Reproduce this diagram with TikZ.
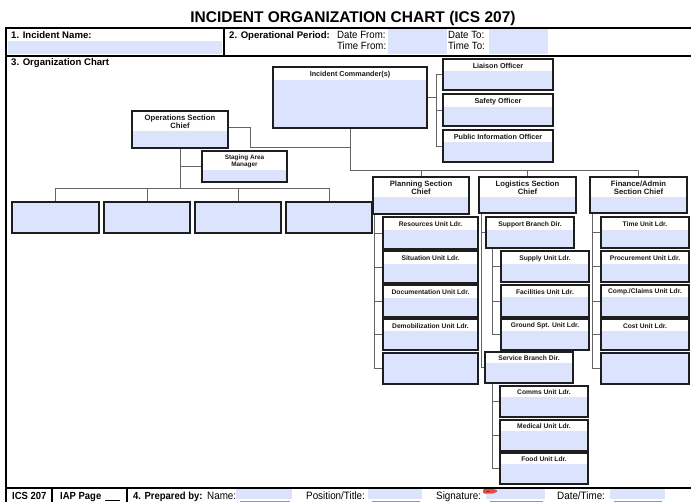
\documentclass[tikz,border=0pt]{standalone}
\usepackage{fontspec}
\setmainfont{Liberation Sans}
\newfontfamily\narrowfont{Liberation Sans}[FakeStretch=0.92]
\usetikzlibrary{backgrounds}

\definecolor{paleblue}{RGB}{220,227,253}
\definecolor{boxline}{RGB}{30,30,30}
\definecolor{connline}{RGB}{100,100,100}
\definecolor{tagred}{RGB}{225,80,70}
\definecolor{fieldline}{RGB}{150,150,150}

\tikzset{
  frameline/.style={draw=black, line width=2pt},
  thinframe/.style={draw=black, line width=1.4pt},
  chartnode/.style={draw=boxline, line width=1.25pt, fill=paleblue, anchor=north west,
                    inner sep=0pt, outer sep=0pt},
  conn/.style={draw=connline, line width=0.8pt},
  labeltext/.style={inner sep=0pt, text=black!90, align=center},
  offtxt/.style={labeltext, font=\bfseries\fontsize{7.2}{8}\selectfont},
  secttxt/.style={labeltext, font=\bfseries\fontsize{7.7}{8.2}\selectfont},
  unittxt/.style={labeltext, font=\bfseries\fontsize{6.7}{7.5}\selectfont},
  smalltxt/.style={labeltext, font=\bfseries\fontsize{6.4}{7.6}\selectfont},
  formbold/.style={inner sep=0pt, anchor=base west, font=\bfseries\fontsize{9.6}{11}\selectfont},
  formplain/.style={inner sep=0pt, anchor=base west, font=\narrowfont\fontsize{10.5}{11}\selectfont},
  footplain/.style={inner sep=0pt, anchor=base west, font=\narrowfont\fontsize{10.7}{12}\selectfont},
  footbold/.style={inner sep=0pt, anchor=base west, font=\narrowfont\bfseries\fontsize{10.3}{12}\selectfont},
  field/.style={fill=paleblue, draw=none},
}

% chart box: name, x, y, width, height, header height, text style, text
\newcommand\chartbox[8]{%
  \node[chartnode, minimum width=#4pt, minimum height=#5pt,
        path picture={\fill[white] (path picture bounding box.north west)
          rectangle ([yshift=-#6pt]path picture bounding box.north east);}]
        (#1) at (#2,#3) {};
  \node[#7] (#1-label) at ([yshift={-#6pt/2-0.8pt}]#1.north) {#8};
}

\begin{document}
\begin{tikzpicture}[x=1pt, y=-1pt]
\useasboundingbox (0,0) rectangle (691,502);

% ---------- title and form header ----------
\node[font=\bfseries\fontsize{15.5}{18}\selectfont, anchor=base, inner sep=0pt] (title)
  at (353,23) {INCIDENT ORGANIZATION CHART (ICS 207)};

\fill[field] (8,41) rectangle (222,54);
\fill[field] (388,29) rectangle (447,54);
\fill[field] (489,29) rectangle (548,54);

\draw[frameline] (6,502) -- (6,28) -- (691,28);
\draw[frameline] (6,56) -- (691,56);
\draw[frameline] (224,28) -- (224,56);

\node[formbold] (incname) at (11,39) {1. Incident Name:};
\node[formbold] (opperiod) at (229,39) {2. Operational Period:};
\node[formplain] (datefrom) at (337,39) {Date From:};
\node[formplain] (timefrom) at (337,50) {Time From:};
\node[formplain] (dateto) at (448,39) {Date To:};
\node[formplain] (timeto) at (448,50) {Time To:};
\node[formbold] (orgchart) at (11,66) {3. Organization Chart};

% ---------- footer ----------
\fill[field] (236,489) rectangle (292,499);
\fill[field] (368,489) rectangle (422,499);
\fill[field] (486,489) rectangle (545,499);
\fill[field] (610,489) rectangle (665,499);
\foreach \a/\b in {240/290, 372/420, 490/543, 614/662}
  \draw[fieldline, line width=1pt] (\a,501.5) -- (\b,501.5);
\draw[frameline] (6,488) -- (691,488);
\draw[thinframe] (52,488) -- (52,502);
\draw[thinframe] (127,488) -- (127,502);
\node[footbold] (icsno) at (12,499) {ICS 207};
\node[footbold] (iappage) at (60,499) {IAP Page};
\draw[black, line width=0.7pt] (105,500) -- (120,500);
\node[footbold] (prepared) at (133,499) {4. Prepared by:};
\node[footplain] (namelbl) at (207,499) {Name:};
\node[footplain] (poslbl) at (306,499) {Position/Title:};
\node[footplain] (siglbl) at (436,499) {Signature:};
\node[footplain] (dtlbl) at (557,499) {Date/Time:};
\fill[tagred, rounded corners=1pt] (483,489) -- (494,489) -- (498,491) -- (494,493.5) -- (483,493.5) -- cycle;
\draw[black!70, line width=0.5pt] (485.5,491.2) -- (490,491.2);

% ---------- command and general staff ----------
\chartbox{ic}{273}{67}{154}{61}{13}{offtxt}{Incident Commander(s)}
\chartbox{liaison}{443}{59}{110}{31}{12}{offtxt}{Liaison Officer}
\chartbox{safety}{443}{94}{110}{32}{13}{offtxt}{Safety Officer}
\chartbox{pio}{443}{130}{110}{32}{12}{offtxt}{Public Information Officer}

\chartbox{osc}{132}{111}{96}{37}{20}{secttxt}{Operations Section\\Chief}
\chartbox{staging}{202}{151}{85}{31}{19}{smalltxt}{Staging Area\\Manager}
\chartbox{psc}{373}{177}{96}{37}{20}{secttxt}{Planning Section\\Chief}
\chartbox{lsc}{479}{177}{97}{36}{20}{secttxt}{Logistics Section\\Chief}
\chartbox{fsc}{590}{177}{97}{36}{20}{secttxt}{Finance/Admin\\Section Chief}

% operations branches
\chartbox{ob1}{12}{202}{87}{31}{0}{unittxt}{}
\chartbox{ob2}{104}{202}{86}{31}{0}{unittxt}{}
\chartbox{ob3}{195}{202}{86}{31}{0}{unittxt}{}
\chartbox{ob4}{286}{202}{86}{31}{0}{unittxt}{}

% planning units
\chartbox{resources}{383}{217}{95}{32}{13}{unittxt}{Resources Unit Ldr.}
\chartbox{situation}{383}{251}{95}{32}{13}{unittxt}{Situation Unit Ldr.}
\chartbox{documentation}{383}{285}{95}{32}{13}{unittxt}{Documentation Unit Ldr.}
\chartbox{demob}{383}{319}{95}{31}{12}{unittxt}{Demobilization Unit Ldr.}
\chartbox{planblank}{383}{353}{95}{31}{0}{unittxt}{}

% logistics branches and units
\chartbox{support}{486}{217}{88}{31}{13}{unittxt}{Support Branch Dir.}
\chartbox{supply}{501}{251}{88}{31}{13}{unittxt}{Supply Unit Ldr.}
\chartbox{facilities}{501}{285}{88}{32}{12}{unittxt}{Facilities Unit Ldr.}
\chartbox{groundspt}{501}{319}{88}{31}{12}{unittxt}{Ground Spt. Unit Ldr.}
\chartbox{service}{485}{352}{88}{31}{11}{unittxt}{Service Branch Dir.}
\chartbox{comms}{500}{386}{88}{31}{11}{unittxt}{Comms Unit Ldr.}
\chartbox{medical}{500}{420}{88}{31}{11}{unittxt}{Medical Unit Ldr.}
\chartbox{food}{500}{453}{88}{31}{11}{unittxt}{Food Unit Ldr.}

% finance/admin units
\chartbox{timeunit}{601}{217}{88}{31}{13}{unittxt}{Time Unit Ldr.}
\chartbox{procurement}{601}{251}{88}{31}{13}{unittxt}{Procurement Unit Ldr.}
\chartbox{compclaims}{601}{285}{88}{32}{12}{unittxt}{Comp./Claims Unit Ldr.}
\chartbox{cost}{601}{319}{88}{31}{12}{unittxt}{Cost Unit Ldr.}
\chartbox{finblank}{601}{353}{88}{31}{0}{unittxt}{}

% ---------- connectors ----------
\coordinate (secbar) at (351,170);
\coordinate (opslink) at (0,147);
\coordinate (offbus) at (436,0);
\coordinate (opsbar) at (0,188);
\coordinate (planbus) at (374,0);
\coordinate (logbus) at (481,0);
\coordinate (branchbus) at (492,0);
\coordinate (finbus) at (592,0);

\begin{pgfonlayer}{background}
  % incident commander to sections
  \draw[conn] (ic.south) -- (ic.south |- secbar) -- (fsc.north |- secbar) -- (fsc.north);
  \draw[conn] (psc.north) -- (psc.north |- secbar);
  \draw[conn] (lsc.north) -- (lsc.north |- secbar);
  \draw[conn] ([yshift=2pt]osc.east) -- ++(22,0) |- (ic.south |- opslink);
  % command staff
  \draw[conn] (ic.east) -- (ic.east -| offbus);
  \draw[conn] (liaison.west) -| (offbus |- pio.west) -- (pio.west);
  \draw[conn] (safety.west) -- (safety.west -| offbus);
  % operations
  \draw[conn] (osc.south) -- (osc.south |- opsbar);
  \draw[conn] (staging.west) -- (staging.west -| osc.south);
  \draw[conn] (ob1.north) |- (ob4.north |- opsbar) -- (ob4.north);
  \draw[conn] (ob2.north) -- (ob2.north |- opsbar);
  \draw[conn] (ob3.north) -- (ob3.north |- opsbar);
  % planning
  \draw[conn] (psc.south -| planbus) |- (planblank.west);
  \foreach \n in {resources, situation, documentation, demob}
    \draw[conn] (\n.west) -- (\n.west -| planbus);
  % logistics
  \draw[conn] (lsc.south -| logbus) |- (service.west);
  \draw[conn] (support.west) -- (support.west -| logbus);
  \draw[conn] (support.south -| branchbus) |- (groundspt.west);
  \foreach \n in {supply, facilities}
    \draw[conn] (\n.west) -- (\n.west -| branchbus);
  \draw[conn] (service.south -| branchbus) |- (food.west);
  \foreach \n in {comms, medical}
    \draw[conn] (\n.west) -- (\n.west -| branchbus);
  % finance/admin
  \draw[conn] (fsc.south -| finbus) |- (finblank.west);
  \foreach \n in {timeunit, procurement, compclaims, cost}
    \draw[conn] (\n.west) -- (\n.west -| finbus);
\end{pgfonlayer}
\end{tikzpicture}
\end{document}
